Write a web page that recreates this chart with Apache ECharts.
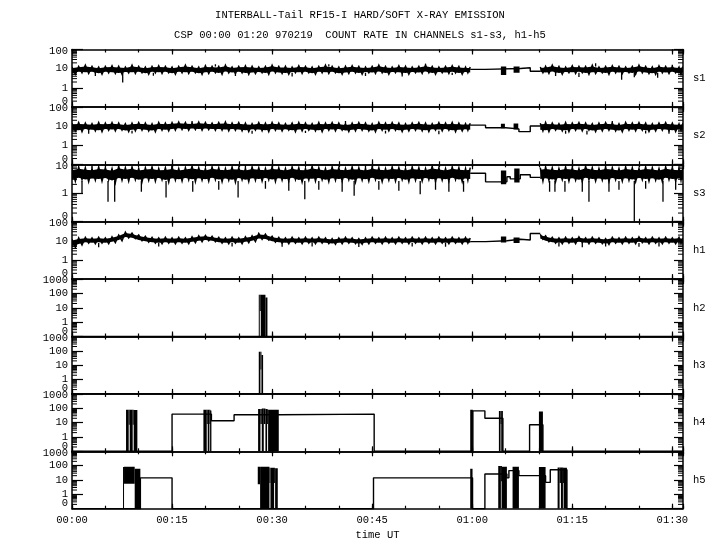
<!DOCTYPE html>
<html><head><meta charset="utf-8">
<script src="https://cdn.jsdelivr.net/npm/echarts@6/dist/echarts.min.js"></script>
<style>html,body{margin:0;padding:0;background:#fff}#c{width:720px;height:550px}</style>
</head><body><div id="c"></div><script>
// ---------------- text ----------------
const title1 = 'INTERBALL-Tail RF15-I HARD/SOFT X-RAY EMISSION';
const title2 = 'CSP 00:00 01:20 970219  COUNT RATE IN CHANNELS s1-s3, h1-h5';
const xName = 'time UT';
const channels = ['s1','s2','s3','h1','h2','h3','h4','h5'];
const topDecade = [2,2,1,2,3,3,3,3];          // log10 of axis top (100,100,10,100,1000...)
const yTickLabels = ['0','1','10','100','1000'];
const xTickLabels = ['00:00','00:15','00:30','00:45','01:00','01:15','01:30'];
const xMaxMin = 91.6;                          // minutes shown

// ---------------- noisy-band data (count rate envelope, minutes) ----------------
const tA = [0,1,2,3,4,5,6,7,8,9,10,11,12,13,14,15,16,17,18,19,20,21,22,23,24,25,26,27,28,29,30,31,32,33,34,35,36,37,38,39,40,41,42,43,44,45,46,47,48,49,50,51,52,53,54,55,56,57,58,59,59.7];
const tB = [70.2,71,72,73,74,75,76,77,78,79,80,81,82,83,84,85,86,87,88,89,90,91,91.6];

const s1HiA = [12,13,15,13,12,13,14,13,12,15,13,12,13,14,13,12,13,15,13,12,14,13,13,15,12,13,14,13,12,13,15,13,13,12,14,13,12,13,15,13,12,13,14,13,12,13,15,13,12,14,13,12,13,15,13,12,13,14,13,12,12];
const s1LoA = [5,6,5.5,6,5,6,5.5,5,6,5.5,6,5,6,5.5,6,5,6,5.5,6,5,5.5,6,5,6,5.5,6,5,5.5,6,5,6,5.5,5,6,5.5,6,5,6,5.5,6,5,5.5,6,5,6,5.5,6,5,6,5.5,5,6,5.5,6,5,6,5.5,6,5,6,5.5];
const s1HiB = [12,13,15,13,12,14,13,13,15,12,13,14,13,12,13,15,13,12,14,13,13,12,13];
const s1LoB = [6,5.5,6,5,6,5.5,6,5,5.5,6,5,6,5.5,6,5,6,5.5,5,6,5.5,6,5,6];

const s2HiA = [14,15,14,13,15,14,15,14,13,14,15,14,13,15,14,15,16,15,14,16,15,14,15,16,14,15,14,13,15,14,15,14,13,14,15,14,13,15,14,15,14,13,14,15,14,13,15,14,15,14,13,14,15,14,13,15,14,15,14,13,14];
const s2LoA = [5.5,5,6,5.5,5,6,5.5,6,5,5.5,6,5.5,5,6,5.5,6,6.5,6,6.5,6,6.5,6,6,5.5,6,5.5,5,6,5.5,5,6,5.5,6,5,5.5,6,5.5,5,6,5.5,6,5,5.5,6,5.5,5,6,5.5,6,5,5.5,6,5.5,5,6,5.5,6,5,5.5,6,5.5];
const s2HiB = [14,15,14,13,15,14,15,14,13,14,15,14,13,15,14,15,14,13,14,15,14,13,14];
const s2LoB = [5.5,5,6,5.5,5,6,5.5,6,5,5.5,6,5.5,5,6,5.5,6,5,5.5,6,5.5,5,6,5.5];

const s3HiA = [7,8,7.5,7,8,7.5,7,8.5,7.5,8,7,7.5,8,7,7.5,8,7,7.5,8.5,7.5,7,8,7.5,7,8,7.5,7,8,7.5,7,8,7.5,7,8,7.5,7,8.5,7.5,7,8,7.5,7,8,7.5,7,8,7.5,7,8,7.5,7,8,7.5,7,8.5,7.5,7,8,7.5,7,7.5];
const s3LoA = [2.5,2.8,2.4,2.7,2.5,2.8,2.2,2.7,2.5,2.8,2.4,2.7,2.5,2.8,2.3,2.7,2.5,2.8,2.4,2.7,2.5,2.8,2.4,2.7,2.3,2.8,2.4,2.7,2.5,2.8,2.4,2.7,2.5,2.8,2.3,2.7,2.5,2.8,2.4,2.7,2.5,2.8,2.3,2.7,2.5,2.8,2.4,2.7,2.5,2.8,2.4,2.7,2.5,2.8,2.4,2.7,2.5,2.8,2.4,2.7,2.5];
const s3HiB = [7.5,8,7.5,7,8,7.5,7,8.5,7.5,7,8,7.5,7,8,7.5,7,8,7.5,7,8,7.5,7,7.5];
const s3LoB = [2.5,2.7,2.4,2.8,2.5,2.7,2.4,2.8,2.5,2.7,2.4,2.8,2.5,2.7,2.4,2.8,2.5,2.7,2.4,2.8,2.5,2.7,2.5];

const h1HiA = [12,14,15,14,15,14,16,20,28,25,20,17,15,14,15,14,15,14,16,18,19,17,15,14,15,14,16,18,24,22,17,15,14,15,14,15,14,15,14,13,14,15,14,13,14,15,14,15,14,15,14,15,14,15,14,15,14,15,14,15,14];
const h1LoA = [4.5,6,7.5,7,7.5,7,8,10,14,13,10,8.5,7.5,7,7.5,7,7.5,7,8,9,10,9,7.5,7,7.5,7,8,9,12,11,8.5,7.5,7,7.5,7,7.5,7,7.5,7,6.5,7,7.5,7,6.5,7,7.5,7,7.5,7,7.5,7,7.5,7,7.5,7,7.5,7,7.5,7,7.5,7];
const h1HiB = [22,18,15,14,15,14,16,14,15,14,13,15,14,15,14,16,14,15,14,15,14,15,14];
const h1LoB = [12,9,7.5,7,7.5,7,8,7,7.5,7,6.5,7.5,7,7.5,7,8,7,7.5,7,7.5,7,7.5,7];

// spikes: [minute, from count, to count]
const s1Spikes = [[3.5,6,4],[7.6,6,1.8],[12.2,6,4.2],[21.5,13,17],[24.5,6,4],[33,6,3.8],[38.5,13,17],[44,6,4],[49.5,6,3.8],[53,13,18],[57,6,4.5],[72.5,6,4],[76,6,3.5],[78.5,13,19],[82.4,6,2.5],[84.3,6,3.4],[87.8,6,3.2],[90,13,16]];
const s2Spikes = [[2.5,5.5,3.8],[9,5.5,4],[18,14,18],[27,5.5,3.8],[35,5.5,4.2],[41,14,18],[47,5.5,4],[55,5.5,3.6],[74,5.5,3.8],[77.2,5.5,3.5],[81,14,18],[86,5.5,4],[89.5,5.5,3.8]];
const s3Spikes = [[1.5,2.5,0.9],[3,7,9.5],[5.4,2.5,0.4],[6.4,2.5,0.4],[10.4,2.5,1.0],[14.1,2.5,0.6],[15,7,9.5],[18.1,2.5,1.0],[22,2.5,1.2],[24.9,2.5,0.6],[26,7,9.5],[29,2.5,1.3],[32.5,2.5,1.1],[34.9,2.5,0.5],[37,2.5,1.2],[40.5,2.5,1.0],[42.3,2.5,0.7],[44,7,9.5],[46,2.5,1.2],[49,2.5,1.1],[52.2,2.5,0.8],[54.5,2.5,1.2],[56.5,2.5,1.0],[58.7,2.5,1.0],[71.6,2.5,1.0],[72.4,2.5,1.0],[73.9,2.5,1.0],[76.5,2.5,1.0],[77.5,2.5,0.4],[80.5,2.5,1.0],[82,2.5,1.2],[84.3,2.5,0],[86,2.5,1.3],[88.6,2.5,0.4],[90.5,2.5,1.2]];
const h1Spikes = [[4,7.5,4.5],[13,7.5,5],[24,7.5,5],[31.5,7.5,4.8],[36,7.5,5],[43,7.5,4.6],[51,7.5,5],[56,7.5,4.8],[73,7.5,5],[76.5,7.5,4.5],[80,7.5,5],[85,7.5,4.8],[88,7.5,5]];

// step (held) levels: [minute, count] — value holds until next point
const s1Step = [[59.7,9],[62.0,10],[67.2,11],[68.7,7.2],[70.2,7.2]];
const s2Step = [[59.7,11],[62.0,8],[65.0,7],[67.0,5],[68.7,10],[70.2,10]];
const s3Step = [[59.7,4.8],[62.0,2.35],[65.2,3.6],[65.7,3.0],[67.2,4.2],[68.7,3.4],[70.2,3.4]];
const h1Step = [[59.7,9],[62.0,10],[65.2,12],[67.2,11],[68.7,24],[70.2,24]];
const h2Step = [[0,0],[91.6,0]];
const h3Step = [[0,0],[91.6,0]];
const h4Step = [[0,0],[15.0,39],[19.7,39],[20.9,13.5],[24.3,35],[27.9,35],[31.0,39],[45.3,0],[59.7,0],[60.1,66],[61.9,20],[64.0,20],[64.6,0],[68.6,7],[70.0,7],[70.6,0],[91.6,0]];
const h5Step = [[0,0],[7.65,0],[10.25,14],[15.0,0],[27.85,0],[45.2,14],[59.7,14],[60.05,0],[61.9,26],[63.9,26],[65.2,14],[65.5,45],[66.05,45],[67.0,20],[70.0,20],[71.0,6.7],[71.7,52],[72.8,52],[74.2,0],[91.6,0]];

// bursts (dense fast fluctuation): [t0, t1, low count, high count]
const s1Bursts = [[64.3,65.1,4.5,13],[66.2,67.1,6,13]];
const s2Bursts = [[64.3,64.9,7.5,13],[66.2,66.9,6.5,13.5]];
const s3Bursts = [[64.3,65.1,1.9,6],[66.3,67.1,2.2,7]];
const h1Bursts = [[64.3,65.1,8,17],[66.2,67.1,7.5,15]];
const h2Bursts = [[28.0,28.15,0,80],[28.15,28.3,6,80],[28.3,29.0,0,80],[29.0,29.3,0,52]];
const h3Bursts = [[28.0,28.25,0,85],[28.25,28.4,5,85],[28.4,28.65,0,52]];
const h4Bursts = [[8.1,8.5,0,80],[8.5,8.65,7,80],[8.65,9.1,0,80],[9.1,9.25,7,80],[9.25,9.8,0,75],
  [19.7,20.2,0,80],[20.2,20.35,8,80],[20.35,20.6,0,80],[20.6,20.7,8,80],[20.7,20.9,0,70],
  [27.9,28.25,0,90],[28.25,28.45,8,90],[28.45,28.75,0,95],[28.75,29.0,8,95],[29.0,29.25,0,90],[29.25,29.4,8,85],[29.4,31.0,0,80],
  [59.7,60.1,0,80],[64.0,64.25,0,65],[64.25,64.35,8,65],[64.35,64.6,0,65],[70.0,70.6,0,60]];
const h5Bursts = [[7.65,7.8,0,80],[7.8,9.4,5.3,85],[9.4,10.25,0,60],
  [27.85,28.2,5,85],[28.2,29.6,0,85],[29.6,29.75,6,70],[29.75,30.3,0,70],[30.3,30.45,6,70],[30.45,30.85,0,65],
  [59.7,60.05,0,60],[63.9,64.3,0,95],[64.3,64.4,8,95],[64.4,65.2,0,85],[66.05,67.0,0,85],[70.0,71.0,0,80],
  [72.8,73.1,0,75],[73.1,73.3,6,75],[73.3,73.6,0,75],[73.6,73.7,6,70],[73.7,74.2,0,70]];

const bands = {
  s1:[{t:tA,hi:s1HiA,lo:s1LoA},{t:tB,hi:s1HiB,lo:s1LoB}],
  s2:[{t:tA,hi:s2HiA,lo:s2LoA},{t:tB,hi:s2HiB,lo:s2LoB}],
  s3:[{t:tA,hi:s3HiA,lo:s3LoA},{t:tB,hi:s3HiB,lo:s3LoB}],
  h1:[{t:tA,hi:h1HiA,lo:h1LoA},{t:tB,hi:h1HiB,lo:h1LoB}]
};
const spikes = {s1:s1Spikes,s2:s2Spikes,s3:s3Spikes,h1:h1Spikes};
const steps = {s1:s1Step,s2:s2Step,s3:s3Step,h1:h1Step,h2:h2Step,h3:h3Step,h4:h4Step,h5:h5Step};
const bursts = {s1:s1Bursts,s2:s2Bursts,s3:s3Bursts,h1:h1Bursts,h2:h2Bursts,h3:h3Bursts,h4:h4Bursts,h5:h5Bursts};

// ---------------- build ----------------
const FONT = 'Liberation Mono';
const FS = 10.5;
const Lg = v => Math.log10(v + 0.1);  // log scale with 0 at bottom
const GT = 49.5, GH = 57.4, GL = 72, GW = 611;
const txtStyle = {color: '#000', fontFamily: FONT, fontSize: FS};

const grid = [], xAxis = [], yAxis = [], series = [];
channels.forEach((ch, i) => {
  const top = topDecade[i];
  grid.push({left: GL, width: GW, top: GT + GH * i, height: GH});
  const last = i === channels.length - 1;
  const axLine = {show: true, onZero: false, lineStyle: {color: '#000', width: 1.5}};
  const noLine = {show: false, onZero: false};
  const base = {gridIndex: i, type: 'value', min: 0, max: xMaxMin, splitLine: {show: false}};
  xAxis.push(Object.assign({}, base, {position: 'bottom', interval: 15, axisLine: axLine,
    axisTick: {inside: true, length: 5, lineStyle: {color: '#000', width: 1.2}},
    axisLabel: Object.assign({show: last, margin: 6,
      formatter: v => (v % 15 === 0 && xTickLabels[v / 15] !== undefined) ? xTickLabels[v / 15] : ''}, txtStyle),
    name: last ? xName : '', nameLocation: 'middle', nameGap: 21, nameTextStyle: txtStyle}));
  xAxis.push(Object.assign({}, base, {position: 'bottom', interval: 5, axisLine: noLine,
    axisTick: {inside: true, length: 3, lineStyle: {color: '#000', width: 1.2}}, axisLabel: {show: false}}));
  xAxis.push(Object.assign({}, base, {position: 'top', interval: 15, axisLine: axLine,
    axisTick: {inside: true, length: 5, lineStyle: {color: '#000', width: 1.2}}, axisLabel: {show: false}}));
  xAxis.push(Object.assign({}, base, {position: 'top', interval: 5, axisLine: noLine,
    axisTick: {inside: true, length: 3, lineStyle: {color: '#000', width: 1.2}}, axisLabel: {show: false}}));

  const ybase = {gridIndex: i, type: 'value', min: -1, max: top, splitLine: {show: false}};
  yAxis.push(Object.assign({}, ybase, {position: 'left', interval: 1, axisLine: axLine,
    axisTick: {inside: true, length: 11, lineStyle: {color: '#000', width: 1.2}},
    axisLabel: Object.assign({margin: 4, showMinLabel: false, showMaxLabel: true,
      formatter: v => {
        const r = Math.round(v);
        if (r === -1) return '';
        const txt = yTickLabels[r + 1];
        return r === top ? '{t|' + txt + '}' : txt;
      },
      rich: {t: Object.assign({padding: [3, 0, 0, 0]}, txtStyle)}}, txtStyle)}));
  yAxis.push(Object.assign({}, ybase, {position: 'right', interval: 1, axisLine: axLine,
    axisTick: {inside: true, length: 9, lineStyle: {color: '#000', width: 1.2}},
    axisLabel: {show: false},
    name: ch, nameLocation: 'middle', nameRotate: 0, nameGap: 10,
    nameTextStyle: Object.assign({align: 'left'}, txtStyle)}));
  yAxis.push(Object.assign({}, ybase, {position: 'left', interval: top + 1, axisLine: noLine,
    axisTick: {show: false},
    axisLabel: Object.assign({margin: 4, showMinLabel: true, showMaxLabel: false,
      formatter: v => Math.round(v) === -1 ? '{z|' + yTickLabels[0] + '}' : '',
      rich: {z: Object.assign({padding: [0, 0, 11, 0]}, txtStyle)}}, txtStyle)}));

  const xi = 4 * i, yi = 3 * i;
  const minor = [];
  for (let n = -1; n < top; n++) for (let k = 2; k <= 9; k++) minor.push([0, n + Math.log10(k)]);
  series.push({type: 'custom', xAxisIndex: xi, yAxisIndex: yi, silent: true, clip: false, z: 5,
    data: minor, encode: {x: 0, y: 1},
    renderItem: (params, api) => {
      const cs = params.coordSys;
      const y = api.coord([0, api.value(1)])[1];
      const st = {stroke: '#000', lineWidth: 1};
      return {type: 'group', children: [
        {type: 'line', shape: {x1: cs.x, y1: y, x2: cs.x + 5, y2: y}, style: st},
        {type: 'line', shape: {x1: cs.x + cs.width - 5, y1: y, x2: cs.x + cs.width, y2: y}, style: st}]};
    }});

  if (bands[ch]) {
    const segs = bands[ch];
    series.push({type: 'custom', xAxisIndex: xi, yAxisIndex: yi, silent: true, clip: true,
      data: segs.map((s, k) => [s.t[0], -1, k]), encode: {x: 0, y: 1},
      renderItem: (params, api) => {
        const s = segs[api.value(2)];
        const n = Math.min(s.t.length, s.hi.length, s.lo.length);
        const core = [];
        for (let j = 0; j < n; j++) {
          const a = Lg(s.hi[j]), b = Lg(s.lo[j]);
          core.push(api.coord([s.t[j], a - 0.15 * (a - b)]));
        }
        for (let j = n - 1; j >= 0; j--) {
          const a = Lg(s.hi[j]), b = Lg(s.lo[j]);
          core.push(api.coord([s.t[j], b + 0.15 * (a - b)]));
        }
        const zig = [];
        for (let j = 0; j < n; j++) {
          zig.push(api.coord([s.t[j], Lg(s.hi[j])]));
          if (j < n - 1) zig.push(api.coord([(s.t[j] + s.t[j + 1]) / 2, Lg(s.lo[j])]));
        }
        return {type: 'group', children: [
          {type: 'polygon', shape: {points: core}, style: {fill: '#000'}},
          {type: 'polyline', shape: {points: zig}, style: {stroke: '#000', lineWidth: 1.5, fill: null}}]};
      }});
    const sp = spikes[ch];
    series.push({type: 'custom', xAxisIndex: xi, yAxisIndex: yi, silent: true, clip: true,
      data: sp.map(d => [d[0], Lg(d[1]), Lg(d[2])]), encode: {x: 0, y: 1},
      renderItem: (params, api) => {
        const a = api.coord([api.value(0), api.value(1)]);
        const b = api.coord([api.value(0), api.value(2)]);
        return {type: 'line', shape: {x1: a[0], y1: a[1], x2: b[0], y2: b[1]}, style: {stroke: '#000', lineWidth: 1.3}};
      }});
  }
  series.push({type: 'line', xAxisIndex: xi, yAxisIndex: yi, step: 'end', symbol: 'none', silent: true,
    data: steps[ch].map(d => [d[0], Lg(d[1])]), lineStyle: {color: '#000', width: 1.4}, z: 3});
  const br = bursts[ch];
  series.push({type: 'custom', xAxisIndex: xi, yAxisIndex: yi, silent: true, clip: true, z: 4,
    data: br.map(d => [d[0], Lg(d[2]), d[1], Lg(d[3])]), encode: {x: 0, y: 1},
    renderItem: (params, api) => {
      const p0 = api.coord([api.value(0), api.value(3)]);
      const p1 = api.coord([api.value(2), api.value(1)]);
      const w = Math.max(1, p1[0] - p0[0]);
      return {type: 'rect', shape: {x: p0[0], y: p0[1], width: w, height: p1[1] - p0[1]}, style: {fill: '#000'}};
    }});
});

const chart = echarts.init(document.getElementById('c'), null, {renderer: 'canvas'});
chart.setOption({
  animation: false,
  backgroundColor: '#fff',
  title: [
    {text: title1, left: 'center', top: 5, textStyle: Object.assign({fontWeight: 'normal'}, txtStyle)},
    {text: title2, left: 'center', top: 25, textStyle: Object.assign({fontWeight: 'normal'}, txtStyle)}
  ],
  grid, xAxis, yAxis, series
});
</script></body></html>
